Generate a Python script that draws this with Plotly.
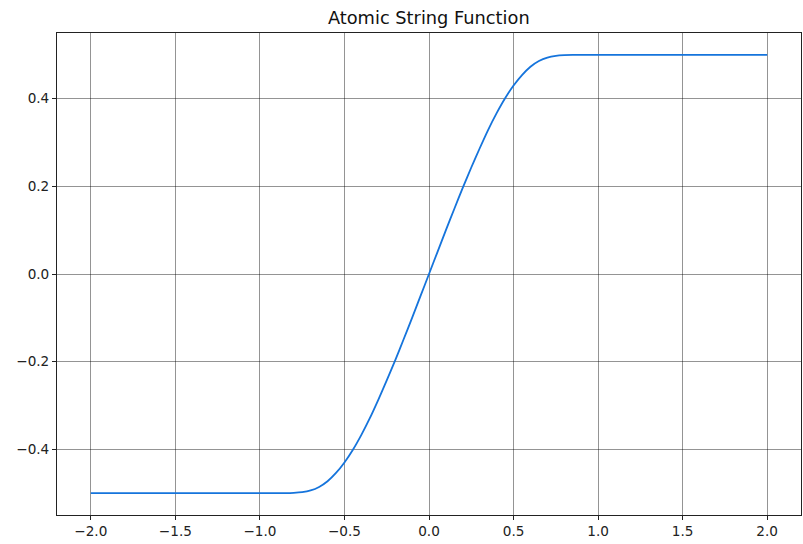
import plotly.graph_objects as go

x_pos = [0.05, 0.1, 0.15, 0.2, 0.25, 0.3, 0.35, 0.4, 0.45, 0.5, 0.55, 0.6, 0.65, 0.7, 0.75, 0.8, 0.85, 1.0, 1.5, 2.0]
y_pos = [0.05, 0.1, 0.149, 0.197, 0.243, 0.287, 0.329, 0.367, 0.401, 0.430, 0.454, 0.473, 0.486, 0.494,
         0.498, 0.4995, 0.5, 0.5, 0.5, 0.5]

x_vals = [-v for v in reversed(x_pos)] + [0.0] + x_pos
y_vals = [-v for v in reversed(y_pos)] + [0.0] + y_pos

x_ticks = [-2.0, -1.5, -1.0, -0.5, 0.0, 0.5, 1.0, 1.5, 2.0]
y_ticks = [-0.4, -0.2, 0.0, 0.2, 0.4]


def fmt(v):
    s = f"{v:.1f}"
    return s.replace("-", "\u2212")


fig = go.Figure()
fig.add_trace(go.Scatter(x=x_vals, y=y_vals, mode="lines",
                         line=dict(color="#1574dc", width=1.8, shape="spline", smoothing=0.5),
                         showlegend=False, hoverinfo="skip"))

axis_common = dict(showline=True, linecolor="#222", linewidth=1, mirror=True,
                   ticks="outside", ticklen=4, tickcolor="#222", tickwidth=1,
                   showgrid=True, gridcolor="rgba(0,0,0,0.42)", gridwidth=1,
                   zeroline=False, tickfont=dict(family="DejaVu Sans", size=13.6, color="#222"))

fig.update_xaxes(range=[-2.2, 2.2], tickvals=x_ticks, ticktext=[fmt(v) for v in x_ticks], **axis_common)
fig.update_yaxes(range=[-0.55, 0.55], tickvals=y_ticks, ticktext=[fmt(v) for v in y_ticks], **axis_common)

fig.update_layout(
    width=803, height=544,
    margin=dict(l=57, r=2, t=33, b=29),
    paper_bgcolor="white", plot_bgcolor="white",
    title=dict(text="Atomic String Function", x=0.534, xanchor="center", y=0.967, yanchor="middle",
               font=dict(family="DejaVu Sans", size=17.8, color="#111")),
)

fig.write_html("out.html")
